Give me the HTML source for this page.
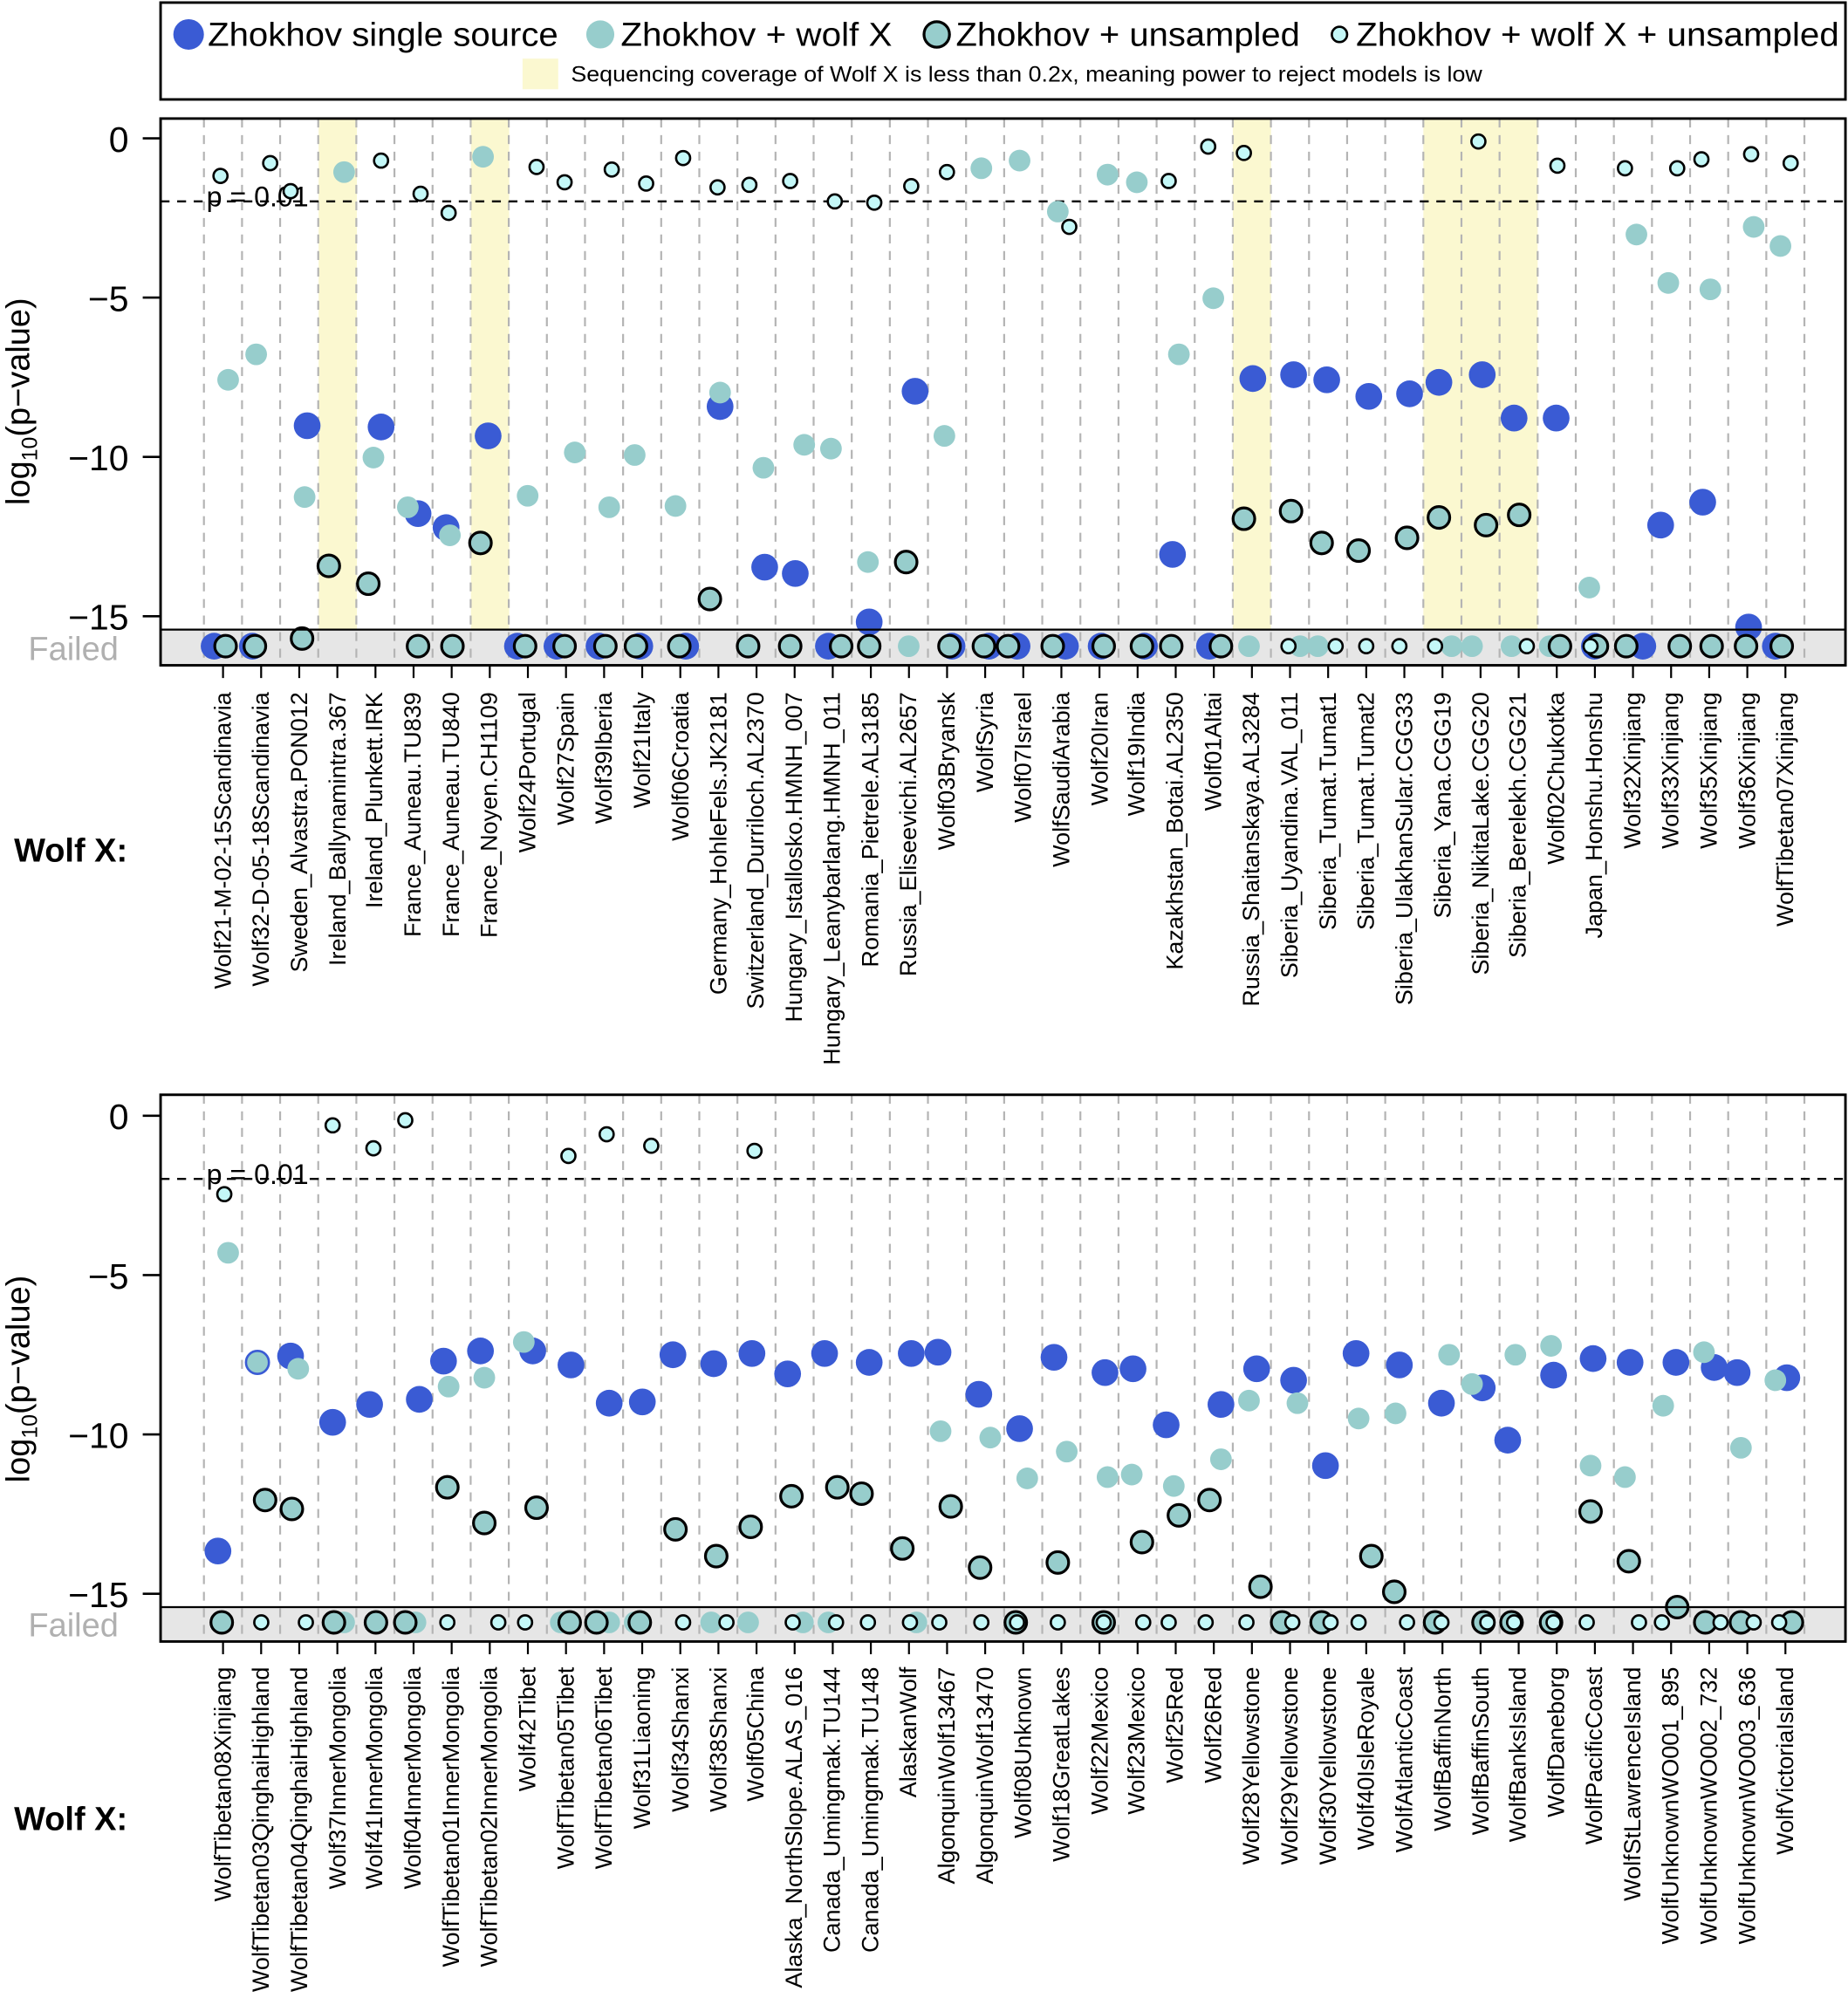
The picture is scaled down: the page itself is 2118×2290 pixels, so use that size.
<!DOCTYPE html>
<html><head><meta charset="utf-8"><style>
html,body{margin:0;padding:0;background:#fff}
svg{display:block}
text{font-family:"Liberation Sans",Arial,sans-serif;fill:#000}
.b{fill:#3a5bd4}.t{fill:#97cdcc}.o{fill:#97cdcc;stroke:#000;stroke-width:2.2}.s{fill:#c4f8f8;stroke:#000;stroke-width:1.8}
.lab{font-size:18.5px}
</style></head><body>
<svg width="2118" height="2290" viewBox="0 0 1450 1567.7" xmlns="http://www.w3.org/2000/svg">
<defs>
<path id="grid" d="M160 0V429M189.9 0V429M219.8 0V429M249.7 0V429M279.6 0V429M309.5 0V429M339.4 0V429M369.3 0V429M399.2 0V429M429.1 0V429M459 0V429M488.9 0V429M518.8 0V429M548.7 0V429M578.6 0V429M608.5 0V429M638.4 0V429M668.3 0V429M698.2 0V429M728.1 0V429M758 0V429M787.9 0V429M817.8 0V429M847.7 0V429M877.6 0V429M907.5 0V429M937.4 0V429M967.3 0V429M997.2 0V429M1027.1 0V429M1057 0V429M1086.9 0V429M1116.8 0V429M1146.7 0V429M1176.6 0V429M1206.5 0V429M1236.4 0V429M1266.3 0V429M1296.2 0V429M1326.1 0V429M1356 0V429M1385.9 0V429M1415.8 0V429" stroke="#b4b4b4" stroke-width="1.5" stroke-dasharray="7 6" fill="none"/>
<path id="ticks" d="M175 0v10M204.9 0v10M234.8 0v10M264.7 0v10M294.6 0v10M324.5 0v10M354.4 0v10M384.3 0v10M414.2 0v10M444.1 0v10M474 0v10M503.9 0v10M533.8 0v10M563.7 0v10M593.6 0v10M623.5 0v10M653.4 0v10M683.3 0v10M713.2 0v10M743.1 0v10M773 0v10M802.9 0v10M832.8 0v10M862.7 0v10M892.6 0v10M922.5 0v10M952.4 0v10M982.3 0v10M1012.2 0v10M1042.1 0v10M1072 0v10M1101.9 0v10M1131.8 0v10M1161.7 0v10M1191.6 0v10M1221.5 0v10M1251.4 0v10M1281.3 0v10M1311.2 0v10M1341.1 0v10M1371 0v10M1400.9 0v10M175 0H1400.9" stroke="#000" stroke-width="1.5" fill="none"/>
</defs>

<!-- Legend -->
<rect x="126" y="2" width="1322" height="76" fill="#fff" stroke="#000" stroke-width="2"/>
<circle cx="148" cy="27" r="12" class="b"/>
<text x="163" y="36" font-size="26" textLength="275" lengthAdjust="spacingAndGlyphs">Zhokhov single source</text>
<circle cx="471" cy="27" r="11" class="t"/>
<text x="487" y="36" font-size="26" textLength="213" lengthAdjust="spacingAndGlyphs">Zhokhov + wolf X</text>
<circle cx="735" cy="27" r="10" class="o"/>
<text x="750" y="36" font-size="26" textLength="270" lengthAdjust="spacingAndGlyphs">Zhokhov + unsampled</text>
<circle cx="1051" cy="27" r="6" class="s"/>
<text x="1064" y="36" font-size="26" textLength="379" lengthAdjust="spacingAndGlyphs">Zhokhov + wolf X + unsampled</text>
<rect x="410" y="46" width="28" height="24" fill="#fbf8d0"/>
<text x="448" y="64" font-size="17" textLength="715" lengthAdjust="spacingAndGlyphs">Sequencing coverage of Wolf X is less than 0.2x, meaning power to reject models is low</text>

<!-- Panel 1 -->
<rect x="250" y="93" width="30" height="401" fill="#fbf8d0"/>
<rect x="369.5" y="93" width="30" height="401" fill="#fbf8d0"/>
<rect x="967.3" y="93" width="30" height="401" fill="#fbf8d0"/>
<rect x="1116.8" y="93" width="89.7" height="401" fill="#fbf8d0"/>
<rect x="126" y="494" width="1322" height="28" fill="#e6e6e6"/>
<use href="#grid" transform="translate(0,93)"/>
<line x1="126" y1="158" x2="1448" y2="158" stroke="#000" stroke-width="1.6" stroke-dasharray="7 6"/>
<text x="162" y="162" font-size="22">p = 0.01</text>
<g>
<circle cx="168" cy="507" r="10.5" class="b"/><circle cx="198" cy="507" r="10.5" class="b"/><circle cx="241" cy="334" r="10.5" class="b"/><circle cx="299" cy="335" r="10.5" class="b"/><circle cx="328" cy="403" r="10.5" class="b"/><circle cx="350" cy="414" r="10.5" class="b"/><circle cx="383" cy="342" r="10.5" class="b"/><circle cx="406" cy="507" r="10.5" class="b"/><circle cx="437" cy="507" r="10.5" class="b"/><circle cx="470" cy="507" r="10.5" class="b"/><circle cx="502" cy="507" r="10.5" class="b"/><circle cx="538" cy="507" r="10.5" class="b"/><circle cx="565" cy="319" r="10.5" class="b"/><circle cx="600" cy="445" r="10.5" class="b"/><circle cx="624" cy="450" r="10.5" class="b"/><circle cx="650" cy="507" r="10.5" class="b"/><circle cx="682" cy="488" r="10.5" class="b"/><circle cx="718" cy="307" r="10.5" class="b"/><circle cx="747" cy="507" r="10.5" class="b"/><circle cx="776" cy="507" r="10.5" class="b"/><circle cx="798" cy="507" r="10.5" class="b"/><circle cx="836" cy="507" r="10.5" class="b"/><circle cx="864" cy="507" r="10.5" class="b"/><circle cx="898" cy="507" r="10.5" class="b"/><circle cx="920" cy="435" r="10.5" class="b"/><circle cx="949" cy="507" r="10.5" class="b"/><circle cx="983" cy="297" r="10.5" class="b"/><circle cx="1015" cy="294" r="10.5" class="b"/><circle cx="1041" cy="298" r="10.5" class="b"/><circle cx="1074" cy="311" r="10.5" class="b"/><circle cx="1106" cy="309" r="10.5" class="b"/><circle cx="1129" cy="300" r="10.5" class="b"/><circle cx="1163" cy="294" r="10.5" class="b"/><circle cx="1188" cy="328" r="10.5" class="b"/><circle cx="1221" cy="328" r="10.5" class="b"/><circle cx="1251" cy="507" r="10.5" class="b"/><circle cx="1289" cy="507" r="10.5" class="b"/><circle cx="1303" cy="412" r="10.5" class="b"/><circle cx="1336" cy="394" r="10.5" class="b"/><circle cx="1372" cy="492" r="10.5" class="b"/><circle cx="1393" cy="507" r="10.5" class="b"/>
</g>
<g>
<circle cx="179" cy="298" r="8.5" class="t"/><circle cx="201" cy="278" r="8.5" class="t"/><circle cx="239" cy="390" r="8.5" class="t"/><circle cx="270" cy="135" r="8.5" class="t"/><circle cx="293" cy="359" r="8.5" class="t"/><circle cx="320" cy="398" r="8.5" class="t"/><circle cx="353" cy="420" r="8.5" class="t"/><circle cx="379" cy="123" r="8.5" class="t"/><circle cx="414" cy="389" r="8.5" class="t"/><circle cx="451" cy="355" r="8.5" class="t"/><circle cx="478" cy="398" r="8.5" class="t"/><circle cx="498" cy="357" r="8.5" class="t"/><circle cx="530" cy="397" r="8.5" class="t"/><circle cx="565" cy="308" r="8.5" class="t"/><circle cx="599" cy="367" r="8.5" class="t"/><circle cx="631" cy="349" r="8.5" class="t"/><circle cx="652" cy="352" r="8.5" class="t"/><circle cx="681" cy="441" r="8.5" class="t"/><circle cx="713" cy="507" r="8.5" class="t"/><circle cx="741" cy="342" r="8.5" class="t"/><circle cx="770" cy="132" r="8.5" class="t"/><circle cx="800" cy="126" r="8.5" class="t"/><circle cx="830" cy="166" r="8.5" class="t"/><circle cx="869" cy="137" r="8.5" class="t"/><circle cx="892" cy="143" r="8.5" class="t"/><circle cx="925" cy="278" r="8.5" class="t"/><circle cx="952" cy="234" r="8.5" class="t"/><circle cx="980" cy="507" r="8.5" class="t"/><circle cx="1020" cy="507" r="8.5" class="t"/><circle cx="1034" cy="507" r="8.5" class="t"/><circle cx="1139" cy="507" r="8.5" class="t"/><circle cx="1155" cy="507" r="8.5" class="t"/><circle cx="1186" cy="507" r="8.5" class="t"/><circle cx="1216" cy="507" r="8.5" class="t"/><circle cx="1247" cy="461" r="8.5" class="t"/><circle cx="1284" cy="184" r="8.5" class="t"/><circle cx="1309" cy="222" r="8.5" class="t"/><circle cx="1342" cy="227" r="8.5" class="t"/><circle cx="1376" cy="178" r="8.5" class="t"/><circle cx="1397" cy="193" r="8.5" class="t"/>
</g>
<g>
<circle cx="177" cy="507" r="8.5" class="o"/><circle cx="200" cy="507" r="8.5" class="o"/><circle cx="237" cy="501" r="8.5" class="o"/><circle cx="258" cy="444" r="8.5" class="o"/><circle cx="289" cy="458" r="8.5" class="o"/><circle cx="328" cy="507" r="8.5" class="o"/><circle cx="355" cy="507" r="8.5" class="o"/><circle cx="377" cy="426" r="8.5" class="o"/><circle cx="412" cy="507" r="8.5" class="o"/><circle cx="443" cy="507" r="8.5" class="o"/><circle cx="475" cy="507" r="8.5" class="o"/><circle cx="499" cy="507" r="8.5" class="o"/><circle cx="533" cy="507" r="8.5" class="o"/><circle cx="557" cy="470" r="8.5" class="o"/><circle cx="587" cy="507" r="8.5" class="o"/><circle cx="620" cy="507" r="8.5" class="o"/><circle cx="660" cy="507" r="8.5" class="o"/><circle cx="682" cy="507" r="8.5" class="o"/><circle cx="711" cy="441" r="8.5" class="o"/><circle cx="745" cy="507" r="8.5" class="o"/><circle cx="772" cy="507" r="8.5" class="o"/><circle cx="791" cy="507" r="8.5" class="o"/><circle cx="826" cy="507" r="8.5" class="o"/><circle cx="866" cy="507" r="8.5" class="o"/><circle cx="896" cy="507" r="8.5" class="o"/><circle cx="919" cy="507" r="8.5" class="o"/><circle cx="958" cy="507" r="8.5" class="o"/><circle cx="976" cy="407" r="8.5" class="o"/><circle cx="1013" cy="401" r="8.5" class="o"/><circle cx="1037" cy="426" r="8.5" class="o"/><circle cx="1066" cy="432" r="8.5" class="o"/><circle cx="1104" cy="422" r="8.5" class="o"/><circle cx="1129" cy="406" r="8.5" class="o"/><circle cx="1166" cy="412" r="8.5" class="o"/><circle cx="1192" cy="404" r="8.5" class="o"/><circle cx="1224" cy="507" r="8.5" class="o"/><circle cx="1253" cy="507" r="8.5" class="o"/><circle cx="1276" cy="507" r="8.5" class="o"/><circle cx="1318" cy="507" r="8.5" class="o"/><circle cx="1343" cy="507" r="8.5" class="o"/><circle cx="1370" cy="507" r="8.5" class="o"/><circle cx="1398" cy="507" r="8.5" class="o"/>
</g>
<g>
<circle cx="173" cy="138" r="5.5" class="s"/><circle cx="212" cy="128" r="5.5" class="s"/><circle cx="228" cy="150" r="5.5" class="s"/><circle cx="299" cy="126" r="5.5" class="s"/><circle cx="330" cy="152" r="5.5" class="s"/><circle cx="352" cy="167" r="5.5" class="s"/><circle cx="421" cy="131" r="5.5" class="s"/><circle cx="443" cy="143" r="5.5" class="s"/><circle cx="480" cy="133" r="5.5" class="s"/><circle cx="507" cy="144" r="5.5" class="s"/><circle cx="536" cy="124" r="5.5" class="s"/><circle cx="563" cy="147" r="5.5" class="s"/><circle cx="588" cy="145" r="5.5" class="s"/><circle cx="620" cy="142" r="5.5" class="s"/><circle cx="655" cy="158" r="5.5" class="s"/><circle cx="686" cy="159" r="5.5" class="s"/><circle cx="715" cy="146" r="5.5" class="s"/><circle cx="743" cy="135" r="5.5" class="s"/><circle cx="839" cy="178" r="5.5" class="s"/><circle cx="917" cy="142" r="5.5" class="s"/><circle cx="948" cy="115" r="5.5" class="s"/><circle cx="976" cy="120" r="5.5" class="s"/><circle cx="1011" cy="507" r="5.5" class="s"/><circle cx="1048" cy="507" r="5.5" class="s"/><circle cx="1072" cy="507" r="5.5" class="s"/><circle cx="1098" cy="507" r="5.5" class="s"/><circle cx="1126" cy="507" r="5.5" class="s"/><circle cx="1160" cy="111" r="5.5" class="s"/><circle cx="1198" cy="507" r="5.5" class="s"/><circle cx="1222" cy="130" r="5.5" class="s"/><circle cx="1248" cy="507" r="5.5" class="s"/><circle cx="1275" cy="132" r="5.5" class="s"/><circle cx="1316" cy="132" r="5.5" class="s"/><circle cx="1335" cy="125" r="5.5" class="s"/><circle cx="1374" cy="121" r="5.5" class="s"/><circle cx="1405" cy="128" r="5.5" class="s"/>
</g>
<line x1="126" y1="494" x2="1448" y2="494" stroke="#000" stroke-width="1.5"/>
<rect x="126" y="93" width="1322" height="429" fill="none" stroke="#000" stroke-width="2"/>
<path d="M112 108.5H126M112 233.5H126M112 358.5H126M112 483.5H126" stroke="#000" stroke-width="1.8"/>
<g font-size="28" text-anchor="end">
<text x="101" y="119">0</text><text x="101" y="244">−5</text><text x="101" y="369">−10</text><text x="101" y="494">−15</text>
</g>
<text x="93" y="518" font-size="26" text-anchor="end" style="fill:#b0b0b0">Failed</text>
<text transform="rotate(-90)" x="-315" y="23" font-size="26" text-anchor="middle">log<tspan font-size="17" dy="6">10</tspan><tspan dy="-6">(p−value)</tspan></text>
<use href="#ticks" transform="translate(0,522)"/>
<text x="11" y="676" font-size="26" font-weight="bold">Wolf X:</text>
<g class="lab">
<text transform="rotate(-90)" x="-543" y="181" text-anchor="end">Wolf21-M-02-15Scandinavia</text>
<text transform="rotate(-90)" x="-543" y="211" text-anchor="end">Wolf32-D-05-18Scandinavia</text>
<text transform="rotate(-90)" x="-543" y="241" text-anchor="end">Sweden_Alvastra.PON012</text>
<text transform="rotate(-90)" x="-543" y="271" text-anchor="end">Ireland_Ballynamintra.367</text>
<text transform="rotate(-90)" x="-543" y="300" text-anchor="end">Ireland_Plunkett.IRK</text>
<text transform="rotate(-90)" x="-543" y="330" text-anchor="end">France_Auneau.TU839</text>
<text transform="rotate(-90)" x="-543" y="360" text-anchor="end">France_Auneau.TU840</text>
<text transform="rotate(-90)" x="-543" y="390" text-anchor="end">France_Noyen.CH1109</text>
<text transform="rotate(-90)" x="-543" y="420" text-anchor="end">Wolf24Portugal</text>
<text transform="rotate(-90)" x="-543" y="450" text-anchor="end">Wolf27Spain</text>
<text transform="rotate(-90)" x="-543" y="480" text-anchor="end">Wolf39Iberia</text>
<text transform="rotate(-90)" x="-543" y="510" text-anchor="end">Wolf21Italy</text>
<text transform="rotate(-90)" x="-543" y="540" text-anchor="end">Wolf06Croatia</text>
<text transform="rotate(-90)" x="-543" y="570" text-anchor="end">Germany_HohleFels.JK2181</text>
<text transform="rotate(-90)" x="-543" y="599" text-anchor="end">Switzerland_Durriloch.AL2370</text>
<text transform="rotate(-90)" x="-543" y="629" text-anchor="end">Hungary_Istallosko.HMNH_007</text>
<text transform="rotate(-90)" x="-543" y="659" text-anchor="end">Hungary_Leanybarlang.HMNH_011</text>
<text transform="rotate(-90)" x="-543" y="689" text-anchor="end">Romania_Pietrele.AL3185</text>
<text transform="rotate(-90)" x="-543" y="719" text-anchor="end">Russia_Eliseevichi.AL2657</text>
<text transform="rotate(-90)" x="-543" y="749" text-anchor="end">Wolf03Bryansk</text>
<text transform="rotate(-90)" x="-543" y="779" text-anchor="end">WolfSyria</text>
<text transform="rotate(-90)" x="-543" y="809" text-anchor="end">Wolf07Israel</text>
<text transform="rotate(-90)" x="-543" y="839" text-anchor="end">WolfSaudiArabia</text>
<text transform="rotate(-90)" x="-543" y="869" text-anchor="end">Wolf20Iran</text>
<text transform="rotate(-90)" x="-543" y="898" text-anchor="end">Wolf19India</text>
<text transform="rotate(-90)" x="-543" y="928" text-anchor="end">Kazakhstan_Botai.AL2350</text>
<text transform="rotate(-90)" x="-543" y="958" text-anchor="end">Wolf01Altai</text>
<text transform="rotate(-90)" x="-543" y="988" text-anchor="end">Russia_Shaitanskaya.AL3284</text>
<text transform="rotate(-90)" x="-543" y="1018" text-anchor="end">Siberia_Uyandina.VAL_011</text>
<text transform="rotate(-90)" x="-543" y="1048" text-anchor="end">Siberia_Tumat.Tumat1</text>
<text transform="rotate(-90)" x="-543" y="1078" text-anchor="end">Siberia_Tumat.Tumat2</text>
<text transform="rotate(-90)" x="-543" y="1108" text-anchor="end">Siberia_UlakhanSular.CGG33</text>
<text transform="rotate(-90)" x="-543" y="1138" text-anchor="end">Siberia_Yana.CGG19</text>
<text transform="rotate(-90)" x="-543" y="1168" text-anchor="end">Siberia_NikitaLake.CGG20</text>
<text transform="rotate(-90)" x="-543" y="1197" text-anchor="end">Siberia_Berelekh.CGG21</text>
<text transform="rotate(-90)" x="-543" y="1227" text-anchor="end">Wolf02Chukotka</text>
<text transform="rotate(-90)" x="-543" y="1257" text-anchor="end">Japan_Honshu.Honshu</text>
<text transform="rotate(-90)" x="-543" y="1287" text-anchor="end">Wolf32Xinjiang</text>
<text transform="rotate(-90)" x="-543" y="1317" text-anchor="end">Wolf33Xinjiang</text>
<text transform="rotate(-90)" x="-543" y="1347" text-anchor="end">Wolf35Xinjiang</text>
<text transform="rotate(-90)" x="-543" y="1377" text-anchor="end">Wolf36Xinjiang</text>
<text transform="rotate(-90)" x="-543" y="1407" text-anchor="end">WolfTibetan07Xinjiang</text>
</g>

<!-- Panel 2 -->
<rect x="126" y="1261" width="1322" height="27" fill="#e6e6e6"/>
<use href="#grid" transform="translate(0,859)"/>
<line x1="126" y1="925" x2="1448" y2="925" stroke="#000" stroke-width="1.6" stroke-dasharray="7 6"/>
<text x="162" y="929" font-size="22">p = 0.01</text>
<g>
<circle cx="171" cy="1217" r="10.5" class="b"/><circle cx="228" cy="1064" r="10.5" class="b"/><circle cx="261" cy="1116" r="10.5" class="b"/><circle cx="290" cy="1102" r="10.5" class="b"/><circle cx="329" cy="1098" r="10.5" class="b"/><circle cx="348" cy="1068" r="10.5" class="b"/><circle cx="377" cy="1060" r="10.5" class="b"/><circle cx="418" cy="1060" r="10.5" class="b"/><circle cx="448" cy="1071" r="10.5" class="b"/><circle cx="478" cy="1101" r="10.5" class="b"/><circle cx="504" cy="1100" r="10.5" class="b"/><circle cx="528" cy="1063" r="10.5" class="b"/><circle cx="560" cy="1070" r="10.5" class="b"/><circle cx="590" cy="1062" r="10.5" class="b"/><circle cx="618" cy="1078" r="10.5" class="b"/><circle cx="647" cy="1062" r="10.5" class="b"/><circle cx="682" cy="1069" r="10.5" class="b"/><circle cx="715" cy="1062" r="10.5" class="b"/><circle cx="736" cy="1061" r="10.5" class="b"/><circle cx="768" cy="1094" r="10.5" class="b"/><circle cx="800" cy="1121" r="10.5" class="b"/><circle cx="827" cy="1065" r="10.5" class="b"/><circle cx="867" cy="1077" r="10.5" class="b"/><circle cx="889" cy="1074" r="10.5" class="b"/><circle cx="915" cy="1118" r="10.5" class="b"/><circle cx="958" cy="1102" r="10.5" class="b"/><circle cx="986" cy="1074" r="10.5" class="b"/><circle cx="1015" cy="1083" r="10.5" class="b"/><circle cx="1040" cy="1150" r="10.5" class="b"/><circle cx="1064" cy="1062" r="10.5" class="b"/><circle cx="1098" cy="1071" r="10.5" class="b"/><circle cx="1131" cy="1101" r="10.5" class="b"/><circle cx="1163" cy="1089" r="10.5" class="b"/><circle cx="1183" cy="1130" r="10.5" class="b"/><circle cx="1219" cy="1079" r="10.5" class="b"/><circle cx="1250" cy="1066" r="10.5" class="b"/><circle cx="1279" cy="1069" r="10.5" class="b"/><circle cx="1315" cy="1069" r="10.5" class="b"/><circle cx="1345" cy="1073" r="10.5" class="b"/><circle cx="1363" cy="1077" r="10.5" class="b"/><circle cx="1402" cy="1081" r="10.5" class="b"/>
</g>
<g>
<circle cx="179" cy="983" r="8.5" class="t"/><circle cx="202" cy="1069" r="9" class="t" stroke="#3a5bd4" stroke-width="1.8"/><circle cx="234" cy="1074" r="8.5" class="t"/><circle cx="270" cy="1273" r="8.5" class="t"/><circle cx="326" cy="1273" r="8.5" class="t"/><circle cx="352" cy="1088" r="8.5" class="t"/><circle cx="380" cy="1081" r="8.5" class="t"/><circle cx="411" cy="1053" r="8.5" class="t"/><circle cx="440" cy="1273" r="8.5" class="t"/><circle cx="478" cy="1273" r="8.5" class="t"/><circle cx="498" cy="1273" r="8.5" class="t"/><circle cx="558" cy="1273" r="8.5" class="t"/><circle cx="587" cy="1273" r="8.5" class="t"/><circle cx="630" cy="1273" r="8.5" class="t"/><circle cx="650" cy="1273" r="8.5" class="t"/><circle cx="719" cy="1273" r="8.5" class="t"/><circle cx="738" cy="1123" r="8.5" class="t"/><circle cx="777" cy="1128" r="8.5" class="t"/><circle cx="806" cy="1160" r="8.5" class="t"/><circle cx="837" cy="1139" r="8.5" class="t"/><circle cx="869" cy="1159" r="8.5" class="t"/><circle cx="888" cy="1157" r="8.5" class="t"/><circle cx="921" cy="1166" r="8.5" class="t"/><circle cx="958" cy="1145" r="8.5" class="t"/><circle cx="980" cy="1099" r="8.5" class="t"/><circle cx="1018" cy="1101" r="8.5" class="t"/><circle cx="1066" cy="1113" r="8.5" class="t"/><circle cx="1095" cy="1109" r="8.5" class="t"/><circle cx="1137" cy="1063" r="8.5" class="t"/><circle cx="1155" cy="1086" r="8.5" class="t"/><circle cx="1189" cy="1063" r="8.5" class="t"/><circle cx="1217" cy="1056" r="8.5" class="t"/><circle cx="1248" cy="1150" r="8.5" class="t"/><circle cx="1275" cy="1159" r="8.5" class="t"/><circle cx="1305" cy="1103" r="8.5" class="t"/><circle cx="1337" cy="1061" r="8.5" class="t"/><circle cx="1366" cy="1136" r="8.5" class="t"/><circle cx="1393" cy="1083" r="8.5" class="t"/>
</g>
<g>
<circle cx="174" cy="1273" r="8.5" class="o"/><circle cx="208" cy="1177" r="8.5" class="o"/><circle cx="229" cy="1184" r="8.5" class="o"/><circle cx="262" cy="1273" r="8.5" class="o"/><circle cx="295" cy="1273" r="8.5" class="o"/><circle cx="318" cy="1273" r="8.5" class="o"/><circle cx="351" cy="1167" r="8.5" class="o"/><circle cx="380" cy="1195" r="8.5" class="o"/><circle cx="421" cy="1183" r="8.5" class="o"/><circle cx="447" cy="1273" r="8.5" class="o"/><circle cx="468" cy="1273" r="8.5" class="o"/><circle cx="502" cy="1273" r="8.5" class="o"/><circle cx="530" cy="1200" r="8.5" class="o"/><circle cx="562" cy="1221" r="8.5" class="o"/><circle cx="589" cy="1198" r="8.5" class="o"/><circle cx="621" cy="1174" r="8.5" class="o"/><circle cx="657" cy="1167" r="8.5" class="o"/><circle cx="676" cy="1172" r="8.5" class="o"/><circle cx="708" cy="1215" r="8.5" class="o"/><circle cx="746" cy="1182" r="8.5" class="o"/><circle cx="769" cy="1230" r="8.5" class="o"/><circle cx="797" cy="1273" r="8.5" class="o"/><circle cx="830" cy="1226" r="8.5" class="o"/><circle cx="866" cy="1273" r="8.5" class="o"/><circle cx="896" cy="1210" r="8.5" class="o"/><circle cx="925" cy="1189" r="8.5" class="o"/><circle cx="949" cy="1177" r="8.5" class="o"/><circle cx="989" cy="1245" r="8.5" class="o"/><circle cx="1006" cy="1273" r="8.5" class="o"/><circle cx="1037" cy="1273" r="8.5" class="o"/><circle cx="1076" cy="1221" r="8.5" class="o"/><circle cx="1094" cy="1249" r="8.5" class="o"/><circle cx="1126" cy="1273" r="8.5" class="o"/><circle cx="1164" cy="1273" r="8.5" class="o"/><circle cx="1186" cy="1273" r="8.5" class="o"/><circle cx="1217" cy="1273" r="8.5" class="o"/><circle cx="1248" cy="1186" r="8.5" class="o"/><circle cx="1278" cy="1225" r="8.5" class="o"/><circle cx="1316" cy="1261" r="8.5" class="o"/><circle cx="1338" cy="1273" r="8.5" class="o"/><circle cx="1366" cy="1273" r="8.5" class="o"/><circle cx="1406" cy="1273" r="8.5" class="o"/>
</g>
<g>
<circle cx="176" cy="937" r="5.5" class="s"/><circle cx="205" cy="1273" r="5.5" class="s"/><circle cx="240" cy="1273" r="5.5" class="s"/><circle cx="261" cy="883" r="5.5" class="s"/><circle cx="293" cy="901" r="5.5" class="s"/><circle cx="318" cy="879" r="5.5" class="s"/><circle cx="351" cy="1273" r="5.5" class="s"/><circle cx="391" cy="1273" r="5.5" class="s"/><circle cx="412" cy="1273" r="5.5" class="s"/><circle cx="446" cy="907" r="5.5" class="s"/><circle cx="476" cy="890" r="5.5" class="s"/><circle cx="511" cy="899" r="5.5" class="s"/><circle cx="536" cy="1273" r="5.5" class="s"/><circle cx="570" cy="1273" r="5.5" class="s"/><circle cx="592" cy="903" r="5.5" class="s"/><circle cx="622" cy="1273" r="5.5" class="s"/><circle cx="656" cy="1273" r="5.5" class="s"/><circle cx="681" cy="1273" r="5.5" class="s"/><circle cx="714" cy="1273" r="5.5" class="s"/><circle cx="737" cy="1273" r="5.5" class="s"/><circle cx="770" cy="1273" r="5.5" class="s"/><circle cx="798" cy="1273" r="5.5" class="s"/><circle cx="830" cy="1273" r="5.5" class="s"/><circle cx="866" cy="1273" r="5.5" class="s"/><circle cx="897" cy="1273" r="5.5" class="s"/><circle cx="917" cy="1273" r="5.5" class="s"/><circle cx="946" cy="1273" r="5.5" class="s"/><circle cx="978" cy="1273" r="5.5" class="s"/><circle cx="1014" cy="1273" r="5.5" class="s"/><circle cx="1044" cy="1273" r="5.5" class="s"/><circle cx="1066" cy="1273" r="5.5" class="s"/><circle cx="1104" cy="1273" r="5.5" class="s"/><circle cx="1131" cy="1273" r="5.5" class="s"/><circle cx="1167" cy="1273" r="5.5" class="s"/><circle cx="1188" cy="1273" r="5.5" class="s"/><circle cx="1219" cy="1273" r="5.5" class="s"/><circle cx="1245" cy="1273" r="5.5" class="s"/><circle cx="1286" cy="1273" r="5.5" class="s"/><circle cx="1304" cy="1273" r="5.5" class="s"/><circle cx="1350" cy="1273" r="5.5" class="s"/><circle cx="1376" cy="1273" r="5.5" class="s"/><circle cx="1396" cy="1273" r="5.5" class="s"/>
</g>
<line x1="126" y1="1261" x2="1448" y2="1261" stroke="#000" stroke-width="1.5"/>
<rect x="126" y="859" width="1322" height="429" fill="none" stroke="#000" stroke-width="2"/>
<path d="M112 875.5H126M112 1000.5H126M112 1125.5H126M112 1250.5H126" stroke="#000" stroke-width="1.8"/>
<g font-size="28" text-anchor="end">
<text x="101" y="886">0</text><text x="101" y="1011">−5</text><text x="101" y="1136">−10</text><text x="101" y="1261">−15</text>
</g>
<text x="93" y="1284" font-size="26" text-anchor="end" style="fill:#b0b0b0">Failed</text>
<text transform="rotate(-90)" x="-1082" y="23" font-size="26" text-anchor="middle">log<tspan font-size="17" dy="6">10</tspan><tspan dy="-6">(p−value)</tspan></text>
<use href="#ticks" transform="translate(0,1288)"/>
<text x="11" y="1436" font-size="26" font-weight="bold">Wolf X:</text>
<g class="lab">
<text transform="rotate(-90)" x="-1308" y="181" text-anchor="end">WolfTibetan08Xinjiang</text>
<text transform="rotate(-90)" x="-1308" y="211" text-anchor="end">WolfTibetan03QinghaiHighland</text>
<text transform="rotate(-90)" x="-1308" y="241" text-anchor="end">WolfTibetan04QinghaiHighland</text>
<text transform="rotate(-90)" x="-1308" y="271" text-anchor="end">Wolf37InnerMongolia</text>
<text transform="rotate(-90)" x="-1308" y="300" text-anchor="end">Wolf41InnerMongolia</text>
<text transform="rotate(-90)" x="-1308" y="330" text-anchor="end">Wolf04InnerMongolia</text>
<text transform="rotate(-90)" x="-1308" y="360" text-anchor="end">WolfTibetan01InnerMongolia</text>
<text transform="rotate(-90)" x="-1308" y="390" text-anchor="end">WolfTibetan02InnerMongolia</text>
<text transform="rotate(-90)" x="-1308" y="420" text-anchor="end">Wolf42Tibet</text>
<text transform="rotate(-90)" x="-1308" y="450" text-anchor="end">WolfTibetan05Tibet</text>
<text transform="rotate(-90)" x="-1308" y="480" text-anchor="end">WolfTibetan06Tibet</text>
<text transform="rotate(-90)" x="-1308" y="510" text-anchor="end">Wolf31Liaoning</text>
<text transform="rotate(-90)" x="-1308" y="540" text-anchor="end">Wolf34Shanxi</text>
<text transform="rotate(-90)" x="-1308" y="570" text-anchor="end">Wolf38Shanxi</text>
<text transform="rotate(-90)" x="-1308" y="599" text-anchor="end">Wolf05China</text>
<text transform="rotate(-90)" x="-1308" y="629" text-anchor="end">Alaska_NorthSlope.ALAS_016</text>
<text transform="rotate(-90)" x="-1308" y="659" text-anchor="end">Canada_Umingmak.TU144</text>
<text transform="rotate(-90)" x="-1308" y="689" text-anchor="end">Canada_Umingmak.TU148</text>
<text transform="rotate(-90)" x="-1308" y="719" text-anchor="end">AlaskanWolf</text>
<text transform="rotate(-90)" x="-1308" y="749" text-anchor="end">AlgonquinWolf13467</text>
<text transform="rotate(-90)" x="-1308" y="779" text-anchor="end">AlgonquinWolf13470</text>
<text transform="rotate(-90)" x="-1308" y="809" text-anchor="end">Wolf08Unknown</text>
<text transform="rotate(-90)" x="-1308" y="839" text-anchor="end">Wolf18GreatLakes</text>
<text transform="rotate(-90)" x="-1308" y="869" text-anchor="end">Wolf22Mexico</text>
<text transform="rotate(-90)" x="-1308" y="898" text-anchor="end">Wolf23Mexico</text>
<text transform="rotate(-90)" x="-1308" y="928" text-anchor="end">Wolf25Red</text>
<text transform="rotate(-90)" x="-1308" y="958" text-anchor="end">Wolf26Red</text>
<text transform="rotate(-90)" x="-1308" y="988" text-anchor="end">Wolf28Yellowstone</text>
<text transform="rotate(-90)" x="-1308" y="1018" text-anchor="end">Wolf29Yellowstone</text>
<text transform="rotate(-90)" x="-1308" y="1048" text-anchor="end">Wolf30Yellowstone</text>
<text transform="rotate(-90)" x="-1308" y="1078" text-anchor="end">Wolf40IsleRoyale</text>
<text transform="rotate(-90)" x="-1308" y="1108" text-anchor="end">WolfAtlanticCoast</text>
<text transform="rotate(-90)" x="-1308" y="1138" text-anchor="end">WolfBaffinNorth</text>
<text transform="rotate(-90)" x="-1308" y="1168" text-anchor="end">WolfBaffinSouth</text>
<text transform="rotate(-90)" x="-1308" y="1197" text-anchor="end">WolfBanksIsland</text>
<text transform="rotate(-90)" x="-1308" y="1227" text-anchor="end">WolfDaneborg</text>
<text transform="rotate(-90)" x="-1308" y="1257" text-anchor="end">WolfPacificCoast</text>
<text transform="rotate(-90)" x="-1308" y="1287" text-anchor="end">WolfStLawrenceIsland</text>
<text transform="rotate(-90)" x="-1308" y="1317" text-anchor="end">WolfUnknownWO001_895</text>
<text transform="rotate(-90)" x="-1308" y="1347" text-anchor="end">WolfUnknownWO002_732</text>
<text transform="rotate(-90)" x="-1308" y="1377" text-anchor="end">WolfUnknownWO003_636</text>
<text transform="rotate(-90)" x="-1308" y="1407" text-anchor="end">WolfVictoriaIsland</text>
</g>
</svg>
</body></html>
